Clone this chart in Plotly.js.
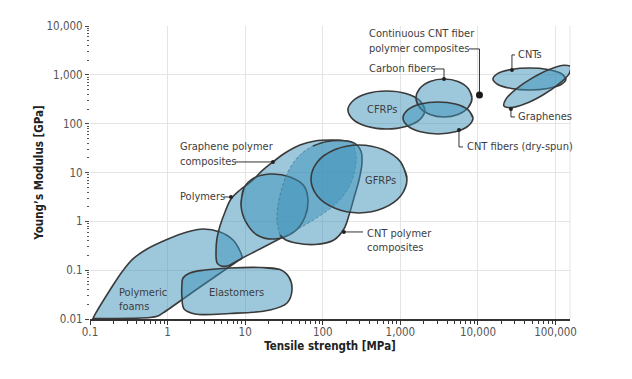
<!DOCTYPE html>
<html><head><meta charset="utf-8">
<script src="https://cdn.plot.ly/plotly-3.0.1.min.js"></script>
<style>html,body{margin:0;padding:0;background:#fff;}#chart{width:632px;height:379px;}</style>
</head><body><div id="chart"></div>
<script>
// ---- axis ticks ----
const xTickVals = [0.1, 1, 10, 100, 1000, 10000, 100000];
const xTickText = ['0.1', '1', '10', '100', '1,000', '10,000', '100,000'];
const yTickVals = [0.01, 0.1, 1, 10, 100, 1000, 10000];
const yTickText = ['0.01', '0.1', '1', '10', '100', '1,000', '10,000'];

// ---- material regions: outline vertices (tensile strength MPa, Young's modulus GPa) ----
const foamsStrength = [0.109, 0.119, 0.181, 0.258, 0.358, 0.543, 0.98, 1.78, 2.86, 4.73, 6.97, 8.57, 9.1, 8.07, 2.62, 0.873, 0.751, 0.593, 0.135, 0.109];
const foamsModulus  = [0.0102, 0.0133, 0.0393, 0.0918, 0.170, 0.272, 0.426, 0.607, 0.698, 0.607, 0.416, 0.247, 0.178, 0.155, 0.0453, 0.0133, 0.0115, 0.0107, 0.0102, 0.0102];

const elastomersStrength = [15.5, 28.1, 36.6, 40.1, 34.6, 20.9, 6.37, 2.25, 1.63, 1.53, 1.53, 1.58, 1.94, 3.03, 6.37];
const elastomersModulus  = [0.1135, 0.103, 0.0726, 0.0393, 0.0213, 0.0153, 0.013, 0.0127, 0.016, 0.0282, 0.0498, 0.0692, 0.0877, 0.101, 0.111];

const polymersStrength = [238, 268, 260, 218, 152, 86.7, 47.9, 30.7, 15.5, 7.83, 6.18, 4.88, 4.34, 4.21, 4.34, 4.73, 5.5, 6.56, 8.57, 12.2, 16.4, 22.8, 32.6, 50.8, 79.3, 124, 177];
const polymersModulus  = [42.4, 24.0, 11.3, 5.07, 2.38, 1.23, 0.698, 0.479, 0.272, 0.155, 0.125, 0.122, 0.141, 0.259, 0.457, 0.805, 1.56, 2.88, 4.4, 6.73, 10.8, 16.5, 25.2, 36.8, 44.5, 46.6, 45.5];

const graphenePolyStrength = [8.83, 9.66, 13.0, 20.9, 37.8, 57.3, 64.4, 59.0, 42.6, 24.2, 14.2, 10.2];
const graphenePolyModulus  = [2.17, 4.83, 7.74, 9.35, 8.13, 5.31, 2.75, 1.23, 0.607, 0.436, 0.526, 0.973];

const cntPolyStrength = [28.1, 25.7, 26.5, 29.8, 36.6, 50.8, 74.8, 113, 177, 252, 310, 320, 293, 252, 218, 187, 139, 79.3, 45.2, 32.6];
const cntPolyModulus  = [0.526, 0.973, 2.17, 4.83, 11.3, 23.0, 35.1, 43.4, 45.5, 40.5, 27.7, 15.7, 7.05, 3.02, 1.35, 0.698, 0.416, 0.336, 0.361, 0.426];

const gfrpStrength = [1216, 1007, 597, 293, 144, 85.1, 70.5, 85.1, 144, 293, 597, 1007];
const gfrpModulus  = [7.4, 16.5, 29.6, 36.8, 29.6, 16.5, 7.4, 3.31, 1.85, 1.49, 1.85, 3.31];

const cfrpStrength = [2075, 1778, 1175, 662, 375, 247, 211, 247, 375, 662, 1175, 1778];
const cfrpModulus  = [192, 300, 418, 470, 418, 300, 192, 122, 88.1, 78.2, 88.1, 122];

const carbonFiberStrength = [8375, 7480, 5520, 3650, 2405, 1778, 1588, 1778, 2405, 3650, 5520, 7480];
const carbonFiberModulus  = [338, 529, 736, 828, 736, 529, 338, 216, 155, 138, 155, 216];

const cntFiberStrength = [8630, 7500, 5130, 3055, 1816, 1242, 1081, 1242, 1816, 3055, 5130, 7500];
const cntFiberModulus  = [131.5, 192, 253, 280, 253, 192, 131.5, 90.2, 68.3, 61.8, 68.3, 90.2];

const cntStrength = [136000, 117800, 79300, 46100, 26850, 18050, 15600, 18050, 26850, 46100, 79300, 117800];
const cntModulus  = [828, 1074, 1297, 1390, 1297, 1074, 828, 638, 529, 493, 529, 638];

const grapheneStrength = [158500, 149300, 109700, 67800, 40500, 26500, 21600, 22900, 31200, 50400, 84600, 128800];
const grapheneModulus  = [1459, 1054, 647, 385, 257, 214, 232, 321, 521, 873, 1315, 1581];

const contCntStrength = [10450];
const contCntModulus  = [389];

// ---- labels ----
const labelText = ['Continuous CNT fiber', 'polymer composites', 'Carbon fibers', 'CNTs', 'Graphenes', 'CNT fibers (dry-spun)', 'CFRPs', 'GFRPs', 'CNT polymer', 'composites', 'Graphene polymer', 'composites', 'Polymers', 'Polymeric', 'foams', 'Elastomers'];
const labelX = [372, 372, 372, 30900, 30900, 6790, 580, 562, 350, 350, 1.36, 1.36, 1.36, 0.223, 0.223, 7.83];
const labelY = [6920, 3410, 1327, 2570, 138, 33.5, 192, 6.73, 0.578, 0.285, 33.5, 16.5, 3.16, 0.0357, 0.0184, 0.0357];
const labelAnchor = ['left', 'left', 'left', 'left', 'left', 'left', 'center', 'center', 'left', 'left', 'left', 'left', 'left', 'left', 'left', 'center'];

// leader lines [x[], y[]] and their end dots
const leaderX = [[7660, 10450, 10450], [2710, 3650, 3650], [30000, 27400, 27400], [26600, 26600, 30000], [5690, 5690, 6410], [187, 330], [7.4, 22.8], [5.33, 6.56]];
const leaderY = [[3410, 3410, 389], [1327, 1327, 828], [2570, 2570, 1265], [201, 138, 138], [74.6, 33.5, 33.5], [0.607, 0.607], [16.5, 16.5], [3.16, 3.16]];
const dotX = [3650, 27400, 26600, 5690, 187, 22.8, 6.56];
const dotY = [828, 1265, 201, 74.6, 0.607, 16.5, 3.16];

// ---- styling ----
const FONT = "'DejaVu Sans Condensed', 'Liberation Sans Narrow', sans-serif";
const LABEL_SIZE = 11;
const FILL = 'rgba(60,145,185,0.5)';
const EDGE = '#3a3a3a';
const EDGE_W = 1.6;
const DASH_COLOR = 'rgba(70,115,140,0.75)';

function wrap(a) { return a.concat(a.slice(0, 2)); }
function closeLast(a) { return a.concat([a[0]]); }

function region(xs, ys, opts) {
  opts = opts || {};
  const closed = opts.wrap === false ? [closeLast(xs), closeLast(ys)] : [wrap(xs), wrap(ys)];
  return {
    type: 'scatter', mode: 'lines', x: closed[0], y: closed[1],
    fill: 'toself', fillcolor: FILL,
    line: { shape: 'spline', smoothing: 1, color: opts.noLine ? 'rgba(0,0,0,0)' : EDGE, width: opts.noLine ? 0 : EDGE_W },
    hoverinfo: 'skip', showlegend: false
  };
}
function outline(xs, ys, dashed) {
  return {
    type: 'scatter', mode: 'lines', x: xs, y: ys,
    line: { shape: 'spline', smoothing: 1, color: dashed ? DASH_COLOR : EDGE, width: dashed ? 1 : EDGE_W, dash: dashed ? '3px,2px' : 'solid' },
    hoverinfo: 'skip', showlegend: false
  };
}

const traces = [];
traces.push(region(foamsStrength, foamsModulus, { wrap: false }));
traces.push(region(elastomersStrength, elastomersModulus));
// polymers band: fill, dashed right side (inside CNT composites), solid rest
traces.push(region(polymersStrength, polymersModulus, { noLine: true }));
traces.push(outline(polymersStrength.slice(0, 8), polymersModulus.slice(0, 8), true));
traces.push(outline(polymersStrength.slice(7).concat([polymersStrength[0]]), polymersModulus.slice(7).concat([polymersModulus[0]]), false));
traces.push(region(graphenePolyStrength, graphenePolyModulus));
// CNT polymer composites
traces.push(region(cntPolyStrength, cntPolyModulus, { noLine: true }));
traces.push(outline(cntPolyStrength.slice(0, 7), cntPolyModulus.slice(0, 7), true));
traces.push(outline(cntPolyStrength.slice(6).concat([cntPolyStrength[0]]), cntPolyModulus.slice(6).concat([cntPolyModulus[0]]), false));
traces.push(region(gfrpStrength, gfrpModulus));
traces.push(region(cfrpStrength, cfrpModulus));
traces.push(region(carbonFiberStrength, carbonFiberModulus));
traces.push(region(cntFiberStrength, cntFiberModulus));
traces.push(region(cntStrength, cntModulus));
traces.push(region(grapheneStrength, grapheneModulus));

// leaders
leaderX.forEach(function (lx, i) {
  traces.push({ type: 'scatter', mode: 'lines', x: lx, y: leaderY[i], line: { color: '#333', width: 1 }, hoverinfo: 'skip', showlegend: false });
});
traces.push({ type: 'scatter', mode: 'markers', x: dotX, y: dotY, marker: { color: '#222', size: 4 }, hoverinfo: 'skip', showlegend: false });
traces.push({ type: 'scatter', mode: 'markers', x: contCntStrength, y: contCntModulus, marker: { color: '#1a1a1a', size: 7, symbol: 'circle' }, hoverinfo: 'skip', showlegend: false });

const annotations = labelText.map(function (t, i) {
  return {
    text: t, x: Math.log10(labelX[i]), y: Math.log10(labelY[i]), xref: 'x', yref: 'y',
    xanchor: labelAnchor[i], yanchor: 'middle', showarrow: false, align: 'left',
    font: { family: FONT, size: LABEL_SIZE, color: '#3d3d3d' }
  };
});

function minorVals(lo, hi) {
  const out = [];
  for (let d = lo; d < hi; d++) for (let m = 2; m <= 9; m++) out.push(m * Math.pow(10, d));
  return out;
}

const layout = {
  width: 632, height: 379,
  margin: { l: 90, r: 62, t: 26, b: 60 },
  paper_bgcolor: '#fff', plot_bgcolor: '#fff',
  showlegend: false, hovermode: false,
  font: { family: FONT, size: 11.5, color: '#555' },
  xaxis: {
    type: 'log', range: [-1, 5.186],
    tickmode: 'array', tickvals: xTickVals, ticktext: xTickText,
    ticks: 'outside', ticklen: 4, tickwidth: 1, tickcolor: '#333',
    ticklabelstandoff: -3,
    tickfont: { family: FONT, size: 11.5, color: '#555' },
    showline: true, linecolor: '#333', linewidth: 2,
    showgrid: true, gridcolor: '#e4e4e4', gridwidth: 1, zeroline: false,
    minor: { tickmode: 'array', tickvals: minorVals(-1, 5), ticks: 'outside', ticklen: 2.5, tickwidth: 1, tickcolor: '#333', showgrid: false },
    title: { text: '<b>Tensile strength [MPa]</b>', font: { family: FONT, size: 11.5, color: '#222' }, standoff: 3 }
  },
  yaxis: {
    type: 'log', range: [-2, 4.003],
    tickmode: 'array', tickvals: yTickVals, ticktext: yTickText,
    ticks: 'outside', ticklen: 4, tickwidth: 1, tickcolor: '#444',
    tickfont: { family: FONT, size: 11.5, color: '#555' },
    showline: false,
    showgrid: true, gridcolor: '#e4e4e4', gridwidth: 1, zeroline: false,
    minor: { tickmode: 'array', tickvals: minorVals(-2, 4), ticks: 'outside', ticklen: 2, tickwidth: 1, tickcolor: '#555', showgrid: false },
    title: { text: '<b>Young\u2019s Modulus [GPa]</b>', font: { family: FONT, size: 11.5, color: '#222' }, standoff: 0 }
  },
  shapes: [
    { type: 'line', xref: 'paper', yref: 'paper', x0: 1, x1: 1, y0: 0, y1: 1, line: { color: '#e4e4e4', width: 1 }, layer: 'below' }
  ],
  annotations: annotations
};

Plotly.newPlot('chart', traces, layout, { displayModeBar: false, staticPlot: true });
</script>
</body></html>
